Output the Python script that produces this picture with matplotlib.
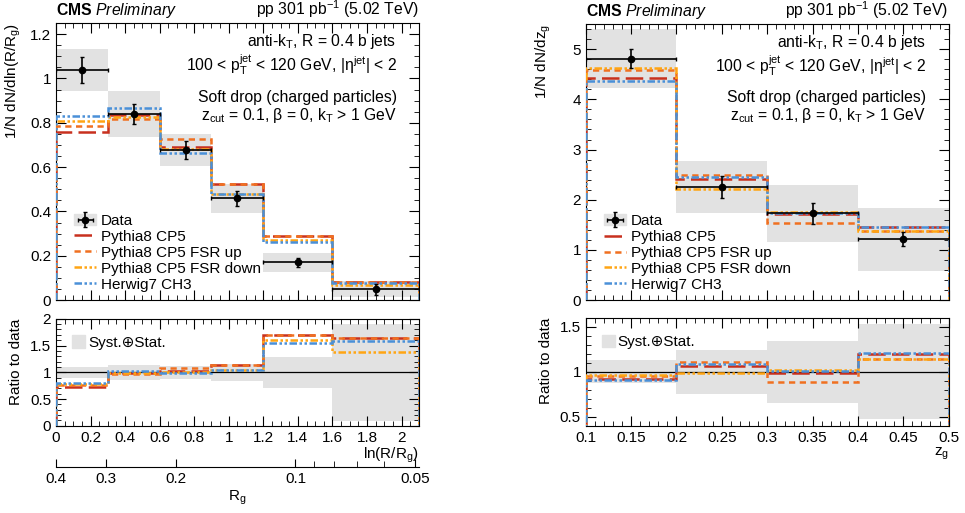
"""
soft drop b-jet substructure, CMS style
R_g and z_g distributions with ratio panels
"""

import numpy as np
import matplotlib
matplotlib.use("Agg")
import matplotlib.pyplot as plt
from matplotlib.lines import Line2D
from matplotlib.patches import Patch
from matplotlib.ticker import MultipleLocator

plt.rcParams['font.family'] = ['Liberation Sans', 'DejaVu Sans']
plt.rcParams['mathtext.fontset'] = 'custom'
plt.rcParams['mathtext.rm'] = 'Liberation Sans'
plt.rcParams['mathtext.it'] = 'Liberation Sans:italic'
plt.rcParams['mathtext.bf'] = 'Liberation Sans:bold'
plt.rcParams['font.size'] = 11

# ---- ln(R/Rg) data ----
rg_edges = [0, 0.3, 0.6, 0.9, 1.2, 1.6, 2.1]
rg_data = [1.037, 0.840, 0.677, 0.460, 0.170, 0.049]
rg_stat = [0.058, 0.047, 0.041, 0.034, 0.022, 0.025]
rg_syst = [0.095, 0.104, 0.074, 0.066, 0.044, 0.037]
rg_cp5 = [0.759, 0.836, 0.690, 0.525, 0.289, 0.080]
rg_fsrup = [0.786, 0.815, 0.729, 0.522, 0.289, 0.080]
rg_fsrdown = [0.807, 0.827, 0.684, 0.478, 0.272, 0.068]
rg_herwig = [0.830, 0.866, 0.662, 0.480, 0.263, 0.078]

# ---- z_g data ----
zg_edges = [0.1, 0.2, 0.3, 0.4, 0.5]
zg_data = [4.814, 2.258, 1.726, 1.209]
zg_stat = [0.19, 0.215, 0.20, 0.14]
zg_syst = [0.58, 0.515, 0.565, 0.62]
zg_cp5 = [4.436, 2.41, 1.706, 1.45]
zg_fsrup = [4.58, 2.503, 1.527, 1.375]
zg_fsrdown = [4.628, 2.224, 1.76, 1.385]
zg_herwig = [4.37, 2.457, 1.74, 1.46]

rg_ticks = [0.4, 0.3, 0.2, 0.1, 0.05]
rg_minor = [0.09, 0.08, 0.07, 0.06]

# model names, colours and dash patterns
models = ["Pythia8 CP5", "Pythia8 CP5 FSR up", "Pythia8 CP5 FSR down", "Herwig7 CH3"]
colors = ["#c8301e", "#f07020", "#ffa514", "#4a90d8"]
dashes = [(7, 2.5), (2.5, 1.8), (3, 1, 1, 1, 1, 1), (3, 1, 1, 1, 1, 1)]
band_col = "#e2e2e2"

fig = plt.figure(figsize=(9.65, 5.13), dpi=100)


def style(ax, xmaj, xmin, ymaj, ymin):
	ax.xaxis.set_major_locator(MultipleLocator(xmaj))
	ax.xaxis.set_minor_locator(MultipleLocator(xmin))
	ax.yaxis.set_major_locator(MultipleLocator(ymaj))
	ax.yaxis.set_minor_locator(MultipleLocator(ymin))
	ax.tick_params(which='both', direction='in', top=True, right=True, labelsize=11)
	ax.tick_params(which='major', length=7)
	ax.tick_params(which='minor', length=3.5)


def panel(ax, axr, edges, data, stat, syst, mcs):
	edges = np.array(edges)
	data = np.array(data)
	stat = np.array(stat)
	syst = np.array(syst)
	centers = 0.5 * (edges[1:] + edges[:-1])
	widths = np.diff(edges)

	# top panel
	ax.bar(edges[:-1], 2 * syst, bottom=data - syst, width=widths, align='edge',
		color=band_col, lw=0, zorder=1)
	for vals, c, d in zip(mcs, colors, dashes):
		ax.stairs(vals, edges, color=c, lw=1.8, linestyle=(0, d), zorder=3)
	eb = ax.errorbar(centers, data, xerr=widths / 2, yerr=stat, fmt='o', color='black',
		ms=4.5, lw=1.2, capsize=1.5, zorder=5)

	# ratio panel
	rel = np.sqrt(syst ** 2 + stat ** 2) / data
	axr.bar(edges[:-1], 2 * rel, bottom=1 - rel, width=widths, align='edge',
		color=band_col, lw=0, zorder=1)
	axr.axhline(1, color='black', lw=0.9, zorder=2)
	for vals, c, d in zip(mcs, colors, dashes):
		axr.stairs(np.array(vals) / data, edges, color=c, lw=1.8, linestyle=(0, d), zorder=3)

	ax.set_xlim(edges[0], edges[-1])
	axr.set_xlim(edges[0], edges[-1])
	ax.tick_params(labelbottom=False)

	# header
	ax.text(0, 1.012, r"$\mathbf{CMS}$ $\mathit{Preliminary}$", transform=ax.transAxes,
		ha='left', va='bottom', fontsize=11.3)
	ax.text(1, 1.012, r"pp 301 pb$^{-1}$ (5.02 TeV)", transform=ax.transAxes,
		ha='right', va='bottom', fontsize=11.3)

	lines = [r"anti-k$_\mathrm{T}$, R = 0.4 b jets",
		r"100 < p$_\mathrm{T}^\mathrm{jet}$ < 120 GeV, |η$^\mathrm{jet}$| < 2",
		"Soft drop (charged particles)",
		r"z$_\mathrm{cut}$ = 0.1, β = 0, k$_\mathrm{T}$ > 1 GeV"]
	ypos = [0.934, 0.851, 0.733, 0.668]
	for t, yy in zip(lines, ypos):
		ax.text(0.939, yy, t, transform=ax.transAxes, ha='right', va='center', fontsize=11.3)

	# legends
	data_h = (Patch(color=band_col), eb)
	hands = [data_h] + [Line2D([], [], color=c, lw=1.8, linestyle=(0, d)) for c, d in zip(colors, dashes)]
	ax.legend(hands, ["Data"] + models, loc='lower left', bbox_to_anchor=(0.05, 0.03),
		frameon=False, fontsize=11, handlelength=1.45, handletextpad=0.3,
		labelspacing=0.13, borderaxespad=0, borderpad=0)
	axr.legend([Patch(color=band_col)], ["Syst.⊕Stat."], loc='upper left',
		bbox_to_anchor=(0.044, 0.845), frameon=False, fontsize=11,
		handlelength=0.85, handleheight=0.85, handletextpad=0.2,
		borderaxespad=0, borderpad=0)


# left panels
ax1 = fig.add_axes([0.058, 0.415, 0.376, 0.540])
ax1r = fig.add_axes([0.058, 0.170, 0.376, 0.2086])
panel(ax1, ax1r, rg_edges, rg_data, rg_stat, rg_syst, [rg_cp5, rg_fsrup, rg_fsrdown, rg_herwig])
ax1.set_ylim(0, 1.25)
ax1r.set_ylim(0, 2)
style(ax1, 0.2, 0.05, 0.2, 0.05)
style(ax1r, 0.2, 0.05, 0.5, 0.1)
ax1.set_yticks([0, 0.2, 0.4, 0.6, 0.8, 1, 1.2], ["0", "0.2", "0.4", "0.6", "0.8", "1", "1.2"])
ax1r.set_yticks([0, 0.5, 1, 1.5, 2], ["0", "0.5", "1", "1.5", "2"])
ax1r.set_xticks([0, 0.2, 0.4, 0.6, 0.8, 1, 1.2, 1.4, 1.6, 1.8, 2],
	["0", "0.2", "0.4", "0.6", "0.8", "1", "1.2", "1.4", "1.6", "1.8", "2"])
ax1.set_ylabel(r"1/N dN/dln(R/R$_\mathrm{g}$)", loc='top', fontsize=11, labelpad=5)
ax1r.set_ylabel("Ratio to data", loc='top', fontsize=11, labelpad=5)
ax1r.set_xlabel(r"ln(R/R$_\mathrm{g}$)", loc='right', fontsize=11, labelpad=1)

# R_g axis underneath
sec = ax1r.secondary_xaxis(-0.383, functions=(lambda x: 0.4 * np.exp(-x),
	lambda r: np.log(0.4 / np.clip(r, 1e-6, None))))
sec.set_xticks(rg_ticks, ["0.4", "0.3", "0.2", "0.1", "0.05"])
sec.set_xticks(rg_minor, minor=True)
sec.tick_params(which='both', direction='in', labelsize=11)
sec.tick_params(which='major', length=6)
sec.tick_params(which='minor', length=4)
sec.set_xlabel(r"R$_\mathrm{g}$", fontsize=11, labelpad=2)

# right panels
ax2 = fig.add_axes([0.607, 0.415, 0.376, 0.538])
ax2r = fig.add_axes([0.607, 0.170, 0.376, 0.2105])
panel(ax2, ax2r, zg_edges, zg_data, zg_stat, zg_syst, [zg_cp5, zg_fsrup, zg_fsrdown, zg_herwig])
ax2.set_ylim(0, 5.5)
ax2r.set_ylim(0.4, 1.6)
style(ax2, 0.05, 0.01, 1, 0.2)
style(ax2r, 0.05, 0.01, 0.5, 0.1)
ax2r.set_xticks([0.1, 0.15, 0.2, 0.25, 0.3, 0.35, 0.4, 0.45, 0.5],
	["0.1", "0.15", "0.2", "0.25", "0.3", "0.35", "0.4", "0.45", "0.5"])
ax2r.set_yticks([0.5, 1, 1.5], ["0.5", "1", "1.5"])
ax2.set_ylabel(r"1/N dN/dz$_\mathrm{g}$", loc='top', fontsize=11, labelpad=14)
ax2r.set_ylabel("Ratio to data", loc='top', fontsize=11, labelpad=5)
ax2r.set_xlabel(r"z$_\mathrm{g}$", loc='right', fontsize=11, labelpad=1)

fig.savefig("out.png", dpi=100)
